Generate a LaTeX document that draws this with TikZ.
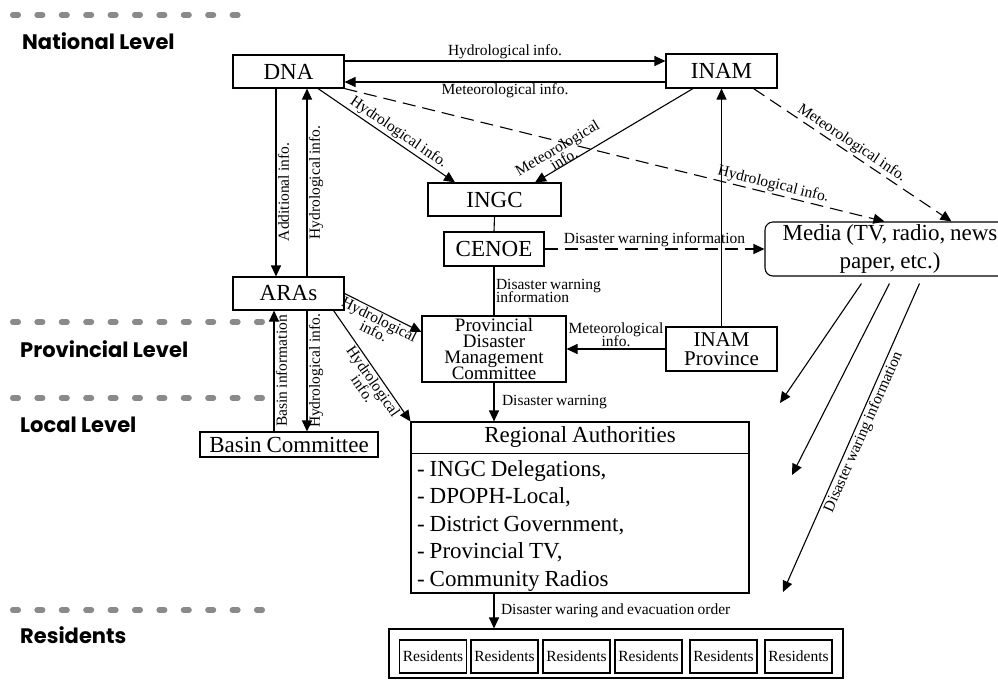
\documentclass[tikz,border=0pt]{standalone}
\usepackage{fontspec}
\setmainfont{Liberation Serif}[WordSpace=0.85]
\newfontfamily\lvlfont{Poppins}
\usetikzlibrary{arrows.meta}
\definecolor{lvlgray}{RGB}{138,138,138}
\tikzset{
  box/.style={draw, line width=1.1pt, inner sep=0pt, font=\fontsize{23}{25}\selectfont},
  lbl/.style={font=\fontsize{15.5}{13}\selectfont, inner sep=1.5pt},
  arr/.style={line width=1.1pt, -{Triangle[length=11pt,width=10pt]}},
  plainline/.style={line width=1.1pt},
  dasharr/.style={arr, dash pattern=on 13pt off 7pt},
  lvl/.style={font=\lvlfont\bfseries\fontsize{21}{21}\selectfont, anchor=base west, inner sep=0pt},
  dotline/.style={line width=5.5pt, line cap=round, color=lvlgray},
  resbox/.style={draw, line width=1.1pt, inner sep=0pt, minimum width=67pt, minimum height=33pt, font=\fontsize{15.5}{16}\selectfont},
  item/.style={anchor=base west, inner sep=0pt, font=\fontsize{23}{25}\selectfont},
  every node/.append style={execute at begin node={\lineskiplimit=-50pt}}
}
\begin{document}
\begin{tikzpicture}[x=1pt,y=-1pt]
\useasboundingbox (0,0) rectangle (998,681);

% level separators
\foreach \i in {0,...,9} \draw[dotline] ({12.75+24.4*\i},15) -- ++(5.5,0);
\foreach \yy in {322,398,610} {
  \foreach \i in {0,...,10} \draw[dotline] ({12.75+24.4*\i},\yy) -- ++(5.5,0);
}
\node[lvl] (nat) at (22,49) {National Level};
\node[lvl] (prov) at (20,357) {Provincial Level};
\node[lvl] (loc) at (20,432) {Local Level};
\node[lvl] (resl) at (20,643) {Residents};

% nodes
\node[box, minimum width=111pt, minimum height=33pt] (dna) at (288.5,71.5) {DNA};
\node[box, minimum width=111pt, minimum height=34pt] (inam) at (721.5,71) {INAM};
\node[box, minimum width=133pt, minimum height=33pt] (ingc) at (494.5,199.5) {INGC};
\node[box, minimum width=100pt, minimum height=34pt] (cenoe) at (494,249) {CENOE};
\node[box, minimum width=111pt, minimum height=33pt] (aras) at (288.5,293.5) {ARAs};
\node[box, minimum width=178pt, minimum height=25pt] (basin) at (289,444.5) {Basin Committee};
\node[box, minimum width=144pt, minimum height=66pt, align=center, font=\fontsize{19}{15.7}\selectfont] (pdmc) at (494,349) {Provincial\\Disaster\\Management\\Committee};
\node[box, minimum width=111pt, minimum height=44pt, align=center, font=\fontsize{21}{19}\selectfont] (inamp) at (721.5,349) {INAM\\Province};
\node[box, rounded corners=8pt, minimum width=250pt, minimum height=54pt, align=center, font=\fontsize{23}{28}\selectfont] (media) at (890,249) {Media (TV, radio, news\\paper, etc.)};

% regional authorities
\node[box, minimum width=338pt, minimum height=171pt] (reg) at (580,507.5) {};
\draw[plainline] ([yshift=-32pt]reg.north west) -- ([yshift=-32pt]reg.north east);
\node[box, draw=none] (regt) at ([yshift=-16pt]reg.north) {Regional Authorities};
\node[item] (i1) at (417,476) {- INGC Delegations,};
\node[item] (i2) at (417,503.5) {- DPOPH-Local,};
\node[item] (i3) at (417,531) {- District Government,};
\node[item] (i4) at (417,558.5) {- Provincial TV,};
\node[item] (i5) at (417,586) {- Community Radios};

% residents
\node[box, minimum width=454pt, minimum height=49pt] (res) at (616,653.5) {};
\foreach \cx [count=\k] in {433,504.5,576.5,648.5,723.5,798.5}
  \node[resbox] (r\k) at (\cx,656.5) {Residents};

% connectors
\draw[arr] ([yshift=10.5pt]dna.east) -- ([yshift=10.5pt]dna.east -| inam.west) node[lbl, midway, above] {Hydrological info.};
\draw[arr] ([yshift=-10.5pt]dna.east -| inam.west) -- ([yshift=-10.5pt]dna.east) node[lbl, midway, below] {Meteorological info.};

\draw[arr] ([xshift=-12.5pt]dna.south) -- ([xshift=-12.5pt]dna.south |- aras.north) node[lbl, pos=0.55, rotate=90, anchor=north] {Additional info.};
\draw[arr] ([xshift=18.5pt]aras.north) -- ([xshift=18.5pt]aras.north |- dna.south) node[lbl, midway, rotate=90, anchor=north] {Hydrological info.};
\draw[arr] ([xshift=18.5pt]aras.south) -- ([xshift=18.5pt]aras.south |- basin.north) node[lbl, midway, rotate=90, anchor=north] {Hydrological info.};
\draw[arr] ([xshift=-15pt]basin.north) -- ([xshift=-15pt]basin.north |- aras.south) node[lbl, midway, rotate=90, anchor=north] {Basin information};

\draw[arr] ([xshift=29.5pt]dna.south) -- ([xshift=-39.5pt]ingc.north) node[lbl, pos=0.55, sloped, above] {Hydrological info.};
\draw[arr] ([xshift=-28.5pt]inam.south) -- ([xshift=40.5pt]ingc.north) node[lbl, pos=0.8, sloped, above=-2pt, align=center] {Meteorological\\info.};

\draw[dasharr] (dna.south east) -- ([xshift=120pt]media.north west) node[lbl, pos=0.79, sloped, above] {Hydrological info.};
\draw[dasharr] ([xshift=-24pt]inam.south east) -- ([xshift=187pt]media.north west) node[lbl, pos=0.47, sloped, above] {Meteorological info.};
\draw[dasharr] (cenoe.east) -- (cenoe.east -| media.west) node[lbl, midway, above] {Disaster warning information};

\draw[plainline] (ingc.south) -- (cenoe.north);
\draw[plainline] (cenoe.south) -- (pdmc.north) node[lbl, midway, right, align=left] {Disaster warning\\information};

\draw[arr] (aras.east) -- ([yshift=17pt]pdmc.west) node[lbl, pos=0.5, sloped, below, align=center] {Hydrological\\info.};
\draw[arr] ([xshift=-11pt]aras.south east) -- (reg.north west) node[lbl, pos=0.6, sloped, below, align=center] {Hydrological\\info.};

\draw[arr] (inamp.north) -- (inam.south);
\draw[arr] (inamp.west) -- (inamp.west -| pdmc.east) node[lbl, midway, above, align=center] {Meteorological\\info.};
\draw[arr] (pdmc.south) -- (pdmc.south |- reg.north) node[lbl, midway, right=6pt] {Disaster warning};
\draw[arr] ([xshift=-86pt]reg.south) -- ([xshift=-86pt]reg.south |- res.north) node[lbl, midway, right=5pt] {Disaster waring and evacuation order};

\coordinate (t1) at (780,403);
\coordinate (t2) at (792,475);
\coordinate (t3) at (783,592);
\draw[arr] ([xshift=97pt,yshift=-7pt]media.south west) -- (t1);
\draw[arr] ([xshift=125pt,yshift=-7pt]media.south west) -- (t2);
\draw[arr] ([xshift=155pt,yshift=-7pt]media.south west) -- (t3) node[lbl, pos=0.47, sloped, below] {Disaster waring information};
\end{tikzpicture}
\end{document}
